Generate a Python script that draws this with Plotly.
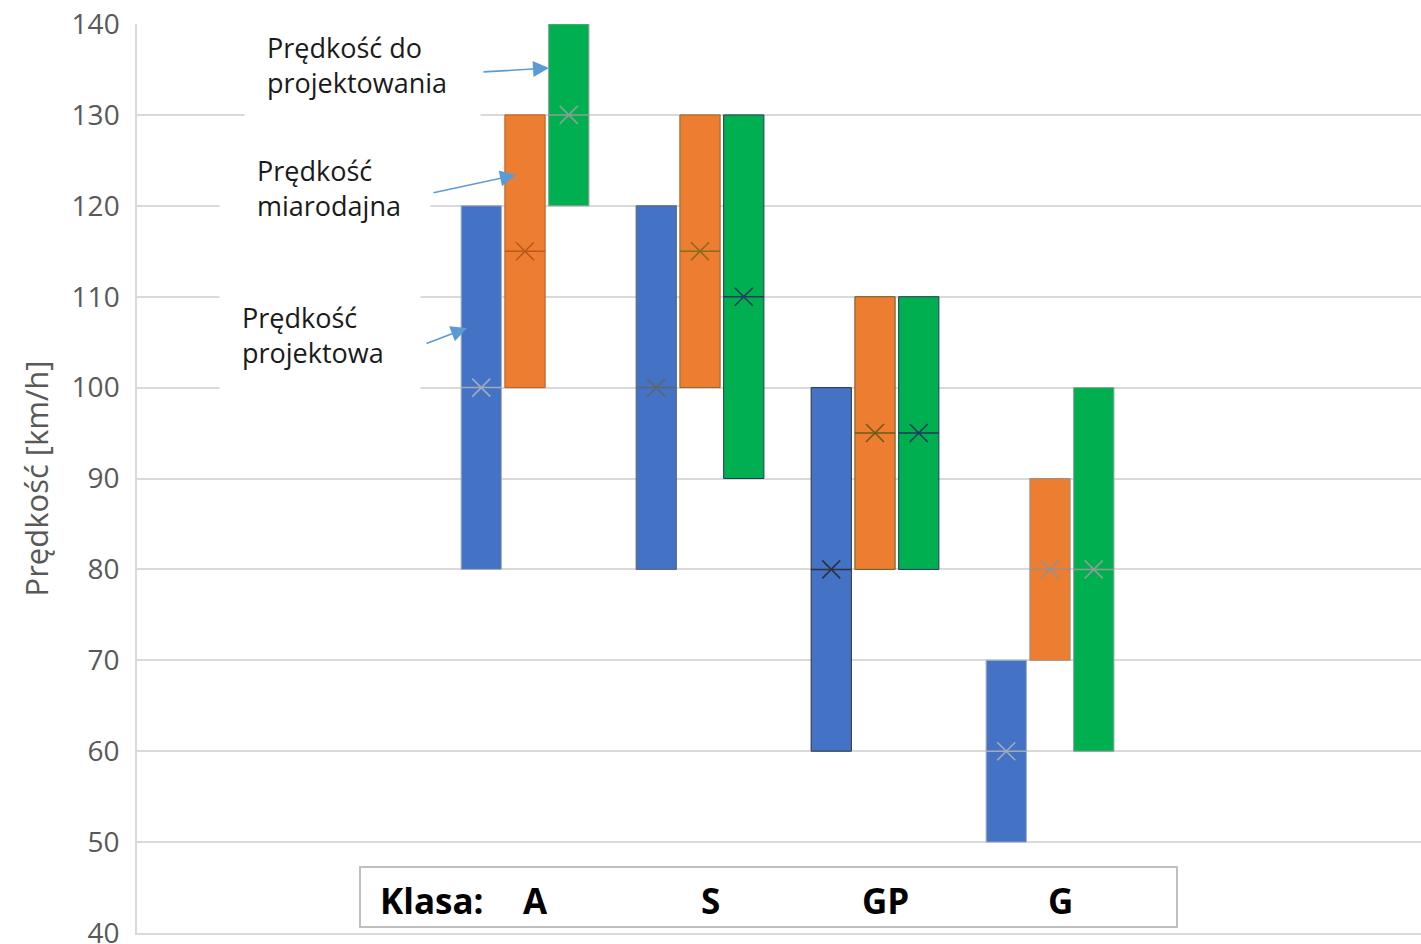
import plotly.graph_objects as go

# ---------------- data ----------------
classes = ["A", "S", "GP", "G"]
series_names = ["Prędkość projektowa", "Prędkość miarodajna", "Prędkość do projektowania"]

proj_low = [80, 80, 60, 50]
proj_high = [120, 120, 100, 70]
proj_mean = [100, 100, 80, 60]

miar_low = [100, 100, 80, 70]
miar_high = [130, 130, 110, 90]
miar_mean = [115, 115, 95, 80]

dop_low = [120, 90, 80, 60]
dop_high = [140, 130, 110, 100]
dop_mean = [130, 110, 95, 80]

y_ticks = [40, 50, 60, 70, 80, 90, 100, 110, 120, 130, 140]

# ---------------- styles ----------------
fills = ["#4472C4", "#ED7D31", "#00B050"]
mark_colors = [
    ["#a3acbb", "#5d6573", "#2b3340", "#a3acbb"],
    ["#b95a1c", "#8a6a1c", "#6b5a1c", "#9c8f86"],
    ["#8f9d95", "#1f3a5a", "#1f3a5a", "#8f9d95"],
]
offsets = [-0.25, 0.0, 0.25]
bar_w = 0.23

W, H = 1421, 944
L, T, B = 137, 24, 11
px_per_unit = 175.0
x0 = 1 - (525 - L) / px_per_unit
x1 = x0 + (W - L) / px_per_unit
plot_h = H - T - B


def px2x(px):
    return x0 + (px - L) / px_per_unit


def py2y(py):
    return 140 - (py - T) * 100.0 / plot_h


lows = [proj_low, miar_low, dop_low]
highs = [proj_high, miar_high, dop_high]
means = [proj_mean, miar_mean, dop_mean]

fig = go.Figure()
shapes = []
for s in range(3):
    xs = [i + 1 + offsets[s] for i in range(len(classes))]
    fig.add_trace(go.Bar(
        x=xs,
        y=[h - l for h, l in zip(highs[s], lows[s])],
        base=lows[s],
        width=bar_w,
        name=series_names[s],
        marker=dict(color=fills[s], line=dict(color=mark_colors[s], width=1)),
        showlegend=False,
    ))
    fig.add_trace(go.Scatter(
        x=xs,
        y=means[s],
        mode="markers",
        marker=dict(symbol="x-thin", size=18,
                    line=dict(color=mark_colors[s], width=1.6)),
        showlegend=False,
        hoverinfo="skip",
    ))
    for i, xv in enumerate(xs):
        shapes.append(dict(type="line", xref="x", yref="y",
                           x0=xv - bar_w / 2, x1=xv + bar_w / 2,
                           y0=means[s][i], y1=means[s][i],
                           line=dict(color=mark_colors[s][i], width=1.5),
                           layer="above"))

# "Klasa" box
shapes.append(dict(type="rect", xref="x", yref="y",
                   x0=px2x(360), x1=px2x(1177), y0=py2y(927), y1=py2y(867),
                   line=dict(color="#bfbfbf", width=2), fillcolor="white",
                   layer="above"))

annotations = []
# white boxes behind labels (hide gridlines)
for cx, cy, w, h in [(362, 68, 235, 128), (325, 190, 210, 84), (320, 342, 200, 108)]:
    annotations.append(dict(x=px2x(cx), y=py2y(cy), xref="x", yref="y",
                            text=" ", showarrow=False, width=w, height=h,
                            bgcolor="white", borderpad=0))

label_font = dict(family="Open Sans, sans-serif", size=27, color="#1a1a1a")
label_texts = ["Prędkość do<br>projektowania", "Prędkość<br>miarodajna", "Prędkość<br>projektowa"]
label_pos = [(265, 65), (255, 188), (240, 335)]
for txt, (lx, ly) in zip(label_texts, label_pos):
    annotations.append(dict(x=px2x(lx), y=py2y(ly), xref="x", yref="y",
                            text=txt, showarrow=False, xanchor="left",
                            yanchor="middle", align="left", font=label_font))

# arrows
for (tx, ty), (hx, hy) in [((482, 72), (549, 68)), ((432, 193), (516, 175)), ((425, 344), (467, 328))]:
    annotations.append(dict(x=px2x(hx), y=py2y(hy), ax=px2x(tx), ay=py2y(ty),
                            xref="x", yref="y", axref="x", ayref="y",
                            text="", showarrow=True, arrowhead=2, arrowsize=2,
                            arrowwidth=1.6, arrowcolor="#5B9BD5", standoff=0))

klasa_font = dict(family="Open Sans, sans-serif", size=35, color="black")
annotations.append(dict(x=px2x(378), y=py2y(900), xref="x", yref="y",
                        text="<b>Klasa:</b>", showarrow=False, xanchor="left",
                        yanchor="middle", font=klasa_font))
for i, c in enumerate(classes):
    annotations.append(dict(x=i + 1 + 0.06, y=py2y(900), xref="x", yref="y",
                            text="<b>%s</b>" % c, showarrow=False,
                            xanchor="center", yanchor="middle", font=klasa_font))

fig.update_layout(
    width=W, height=H,
    margin=dict(l=L, r=0, t=T, b=B, pad=0, autoexpand=False),
    plot_bgcolor="white", paper_bgcolor="white",
    barmode="overlay",
    shapes=shapes,
    annotations=annotations,
    xaxis=dict(range=[x0, x1], showgrid=False, zeroline=False, automargin=False,
               showticklabels=False, showline=True, linecolor="#d9d9d9",
               linewidth=1.5, fixedrange=True),
    yaxis=dict(range=[40, 140], tickvals=y_ticks, showgrid=True, automargin=False,
               gridcolor="#d9d9d9", gridwidth=1.5, zeroline=False,
               showline=True, linecolor="#d9d9d9", linewidth=1.5,
               ticks="", ticklabelstandoff=10, ticklabeloverflow="allow",
               tickfont=dict(family="Open Sans, sans-serif", size=28, color="#595959"),
               title=dict(text="Prędkość [km/h]", standoff=14,
                          font=dict(family="Open Sans, sans-serif", size=31, color="#595959"))),
)

fig.write_html("out.html")
